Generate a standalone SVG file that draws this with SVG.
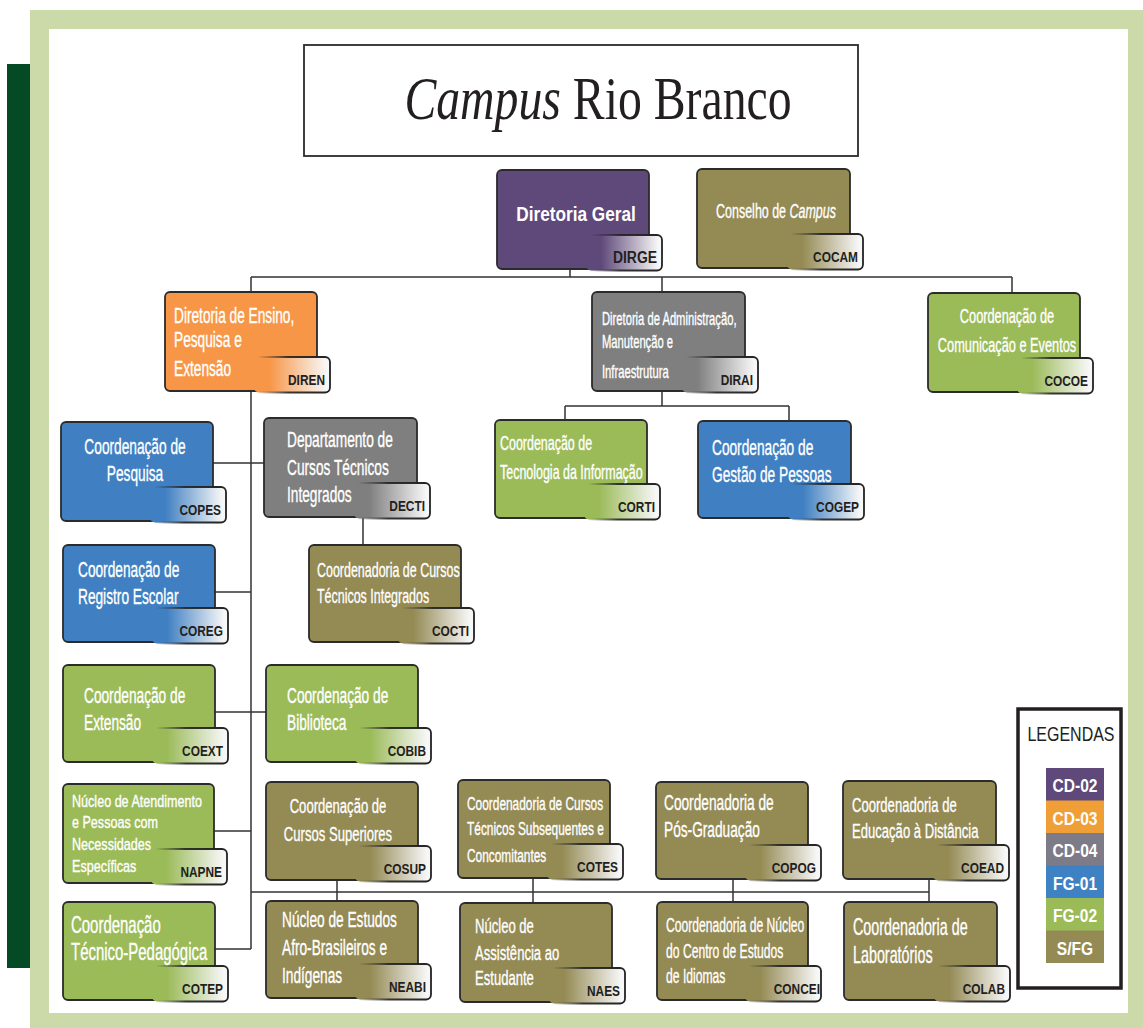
<svg xmlns="http://www.w3.org/2000/svg" width="1143" height="1028" viewBox="0 0 1143 1028">
<style>
.box{stroke:#2b2b2b;stroke-width:1.8}
.tab{stroke:url(#sTab);stroke-width:1.8}
.pur{fill:#5f497a}.ora{fill:#f79646}.gry{fill:#7f7f7f}.blu{fill:#4080c2}.grn{fill:#9bbb59}.olv{fill:#948a54}
.t{fill:#fff;stroke:#fff;stroke-width:0.35;font-family:"Liberation Sans",Arial,sans-serif;font-size:22px}
.c{fill:#231f20;font-family:"Liberation Sans",Arial,sans-serif;font-size:14.5px;font-weight:bold;text-anchor:end}
.ln{stroke:#333;stroke-width:1.5;fill:none}
.lg{fill:#fff;font-family:"Liberation Sans",Arial,sans-serif;font-size:19px;font-weight:bold;text-anchor:middle}
</style>
<defs>
<linearGradient id="sTab" x1="0" y1="0" x2="1" y2="0"><stop offset="0.05" stop-color="#222" stop-opacity="0"/><stop offset="0.45" stop-color="#222" stop-opacity="0.9"/><stop offset="1" stop-color="#222"/></linearGradient>
<linearGradient id="gPur" x1="0" y1="0" x2="1" y2="0"><stop offset="0.2" stop-color="#5f497a"/><stop offset="0.95" stop-color="#f7f7f7"/></linearGradient>
<linearGradient id="gOra" x1="0" y1="0" x2="1" y2="0"><stop offset="0.2" stop-color="#f79646"/><stop offset="0.95" stop-color="#f7f7f7"/></linearGradient>
<linearGradient id="gGry" x1="0" y1="0" x2="1" y2="0"><stop offset="0.2" stop-color="#7f7f7f"/><stop offset="0.95" stop-color="#f7f7f7"/></linearGradient>
<linearGradient id="gBlu" x1="0" y1="0" x2="1" y2="0"><stop offset="0.2" stop-color="#4080c2"/><stop offset="0.95" stop-color="#f7f7f7"/></linearGradient>
<linearGradient id="gGrn" x1="0" y1="0" x2="1" y2="0"><stop offset="0.2" stop-color="#9bbb59"/><stop offset="0.95" stop-color="#f7f7f7"/></linearGradient>
<linearGradient id="gOlv" x1="0" y1="0" x2="1" y2="0"><stop offset="0.2" stop-color="#948a54"/><stop offset="0.95" stop-color="#f7f7f7"/></linearGradient>
</defs>
<rect width="1143" height="1028" fill="#fff"/>
<rect x="7" y="64" width="24" height="904" fill="#034a25"/>
<rect x="30" y="10" width="1113" height="1018" fill="#cbdaa8"/>
<rect x="49" y="29" width="1079" height="984" fill="#fff"/>

<g id="title">
<rect x="304" y="45" width="554" height="111" fill="#fff" stroke="#2b2b2b" stroke-width="1.8"/>
<text transform="translate(598 0) scale(.77 1)" y="119" text-anchor="middle" font-family="'Liberation Serif',serif" font-size="62" fill="#231f20"><tspan font-style="italic">Campus</tspan> Rio Branco</text>
</g>

<g id="connectors">
<path class="ln" d="M570 269V277M251 277H1012M251 277V292M662 277V292M1012 277V293"/>
<path class="ln" d="M662 391V406M565 406H789M565 406V421M789 406V421"/>
<path class="ln" d="M251 391V949M213 463H264M363 517V545M215 592H251M215 712H266M214 831H251M215 949H251"/>
<path class="ln" d="M251 892H929M337 880V901M533 878V903M733 879V902M929 879V902"/>
</g>

<g id="DIRGE">
<rect class="box pur" x="497" y="170" width="152" height="99" rx="5"/>
<rect class="tab" fill="url(#gPur)" x="586" y="235" width="76" height="35.5" rx="5"/>
<text class="t" transform="translate(576 221) scale(.82 1)" text-anchor="middle" style="font-size:21px;font-weight:bold;stroke-width:0">Diretoria Geral</text>
<text class="c" transform="translate(657 263) scale(.82 1)" style="font-size:17px">DIRGE</text>
</g>

<g id="COCAM">
<rect class="box olv" x="697" y="169" width="153" height="99" rx="5"/>
<rect class="tab" fill="url(#gOlv)" x="787" y="234" width="76" height="35.5" rx="5"/>
<text class="t" transform="translate(776 218) scale(.623 1)" text-anchor="middle" style="font-size:20px">Conselho de <tspan font-style="italic">Campus</tspan></text>
<text class="c" transform="translate(858 262) scale(.82 1)">COCAM</text>
</g>

<g id="DIREN">
<rect class="box ora" x="165" y="292" width="152" height="99" rx="5"/>
<rect class="tab" fill="url(#gOra)" x="254" y="357" width="76" height="35.5" rx="5"/>
<text class="t" transform="translate(174 0) scale(.623 1)"><tspan x="0" y="323">Diretoria de Ensino,</tspan><tspan x="0" y="347">Pesquisa e</tspan><tspan x="0" y="376">Extensão</tspan></text>
<text class="c" transform="translate(325 385) scale(.82 1)">DIREN</text>
</g>

<g id="DIRAI">
<rect class="box gry" x="592" y="292" width="153" height="99" rx="5"/>
<rect class="tab" fill="url(#gGry)" x="682" y="357" width="76" height="35.5" rx="5"/>
<text class="t" transform="translate(602 0) scale(.623 1)" style="font-size:18px"><tspan x="0" y="325">Diretoria de Administração,</tspan><tspan x="0" y="348">Manutenção e</tspan><tspan x="0" y="378">Infraestrutura</tspan></text>
<text class="c" transform="translate(753 385) scale(.82 1)">DIRAI</text>
</g>

<g id="COCOE">
<rect class="box grn" x="928" y="293" width="152" height="99" rx="5"/>
<rect class="tab" fill="url(#gGrn)" x="1017" y="358" width="76" height="35.5" rx="5"/>
<text class="t" transform="translate(1007 0) scale(.623 1)" text-anchor="middle" style="font-size:20.5px"><tspan x="0" y="323">Coordenação de</tspan><tspan x="0" y="352">Comunicação e Eventos</tspan></text>
<text class="c" transform="translate(1088 386) scale(.82 1)">COCOE</text>
</g>

<g id="CORTI">
<rect class="box grn" x="495" y="420" width="152" height="98" rx="5"/>
<rect class="tab" fill="url(#gGrn)" x="584" y="484" width="76" height="35.5" rx="5"/>
<text class="t" transform="translate(500 0) scale(.623 1)" style="font-size:20px"><tspan x="0" y="450">Coordenação de</tspan><tspan x="0" y="479">Tecnologia da Informação</tspan></text>
<text class="c" transform="translate(655 512) scale(.82 1)">CORTI</text>
</g>

<g id="COGEP">
<rect class="box blu" x="698" y="421" width="153" height="97" rx="5"/>
<rect class="tab" fill="url(#gBlu)" x="788" y="484" width="76" height="35.5" rx="5"/>
<text class="t" transform="translate(712 0) scale(.623 1)"><tspan x="0" y="455">Coordenação de</tspan><tspan x="0" y="482">Gestão de Pessoas</tspan></text>
<text class="c" transform="translate(859 512) scale(.82 1)">COGEP</text>
</g>

<g id="COPES">
<rect class="box blu" x="61" y="422" width="152" height="99" rx="5"/>
<rect class="tab" fill="url(#gBlu)" x="150" y="487" width="76" height="35.5" rx="5"/>
<text class="t" transform="translate(135 0) scale(.623 1)" text-anchor="middle"><tspan x="0" y="454">Coordenação de</tspan><tspan x="0" y="481">Pesquisa</tspan></text>
<text class="c" transform="translate(221 515) scale(.82 1)">COPES</text>
</g>

<g id="DECTI">
<rect class="box gry" x="264" y="418" width="153" height="99" rx="5"/>
<rect class="tab" fill="url(#gGry)" x="354" y="483" width="76" height="35.5" rx="5"/>
<text class="t" transform="translate(287 0) scale(.623 1)"><tspan x="0" y="447">Departamento de</tspan><tspan x="0" y="475">Cursos Técnicos</tspan><tspan x="0" y="502">Integrados</tspan></text>
<text class="c" transform="translate(425 511) scale(.82 1)">DECTI</text>
</g>

<g id="COCTI">
<rect class="box olv" x="309" y="545" width="152" height="97" rx="5"/>
<rect class="tab" fill="url(#gOlv)" x="398" y="608" width="76" height="35.5" rx="5"/>
<text class="t" transform="translate(317 0) scale(.623 1)" style="font-size:20px"><tspan x="0" y="577">Coordenadoria de Cursos</tspan><tspan x="0" y="603">Técnicos Integrados</tspan></text>
<text class="c" transform="translate(469 636) scale(.82 1)">COCTI</text>
</g>

<g id="COREG">
<rect class="box blu" x="63" y="545" width="152" height="97" rx="5"/>
<rect class="tab" fill="url(#gBlu)" x="152" y="608" width="76" height="35.5" rx="5"/>
<text class="t" transform="translate(78 0) scale(.623 1)"><tspan x="0" y="577">Coordenação de</tspan><tspan x="0" y="604">Registro Escolar</tspan></text>
<text class="c" transform="translate(223 636) scale(.82 1)">COREG</text>
</g>

<g id="COEXT">
<rect class="box grn" x="63" y="665" width="152" height="97" rx="5"/>
<rect class="tab" fill="url(#gGrn)" x="152" y="728" width="76" height="35.5" rx="5"/>
<text class="t" transform="translate(84 0) scale(.623 1)"><tspan x="0" y="703">Coordenação de</tspan><tspan x="0" y="730">Extensão</tspan></text>
<text class="c" transform="translate(223 756) scale(.82 1)">COEXT</text>
</g>

<g id="COBIB">
<rect class="box grn" x="266" y="665" width="152" height="97" rx="5"/>
<rect class="tab" fill="url(#gGrn)" x="355" y="728" width="76" height="35.5" rx="5"/>
<text class="t" transform="translate(287 0) scale(.623 1)"><tspan x="0" y="703">Coordenação de</tspan><tspan x="0" y="730">Biblioteca</tspan></text>
<text class="c" transform="translate(426 756) scale(.82 1)">COBIB</text>
</g>

<g id="NAPNE">
<rect class="box grn" x="63" y="784" width="151" height="99" rx="5"/>
<rect class="tab" fill="url(#gGrn)" x="151" y="849" width="76" height="35.5" rx="5"/>
<text class="t" transform="translate(72 0) scale(.763 1)" style="font-size:16.5px"><tspan x="0" y="807">Núcleo de Atendimento</tspan><tspan x="0" y="828">e Pessoas com</tspan><tspan x="0" y="850">Necessidades</tspan><tspan x="0" y="872">Específicas</tspan></text>
<text class="c" transform="translate(222 877) scale(.82 1)">NAPNE</text>
</g>

<g id="COTEP">
<rect class="box grn" x="63" y="902" width="152" height="98" rx="5"/>
<rect class="tab" fill="url(#gGrn)" x="152" y="966" width="76" height="35.5" rx="5"/>
<text class="t" transform="translate(71 0) scale(.623 1)" style="font-size:24px"><tspan x="0" y="933">Coordenação</tspan><tspan x="0" y="960">Técnico-Pedagógica</tspan></text>
<text class="c" transform="translate(223 994) scale(.82 1)">COTEP</text>
</g>

<g id="COSUP">
<rect class="box olv" x="266" y="782" width="152" height="98" rx="5"/>
<rect class="tab" fill="url(#gOlv)" x="355" y="846" width="76" height="35.5" rx="5"/>
<text class="t" transform="translate(338 0) scale(.623 1)" text-anchor="middle" style="font-size:21px"><tspan x="0" y="813">Coordenação de</tspan><tspan x="0" y="841">Cursos Superiores</tspan></text>
<text class="c" transform="translate(426 874) scale(.82 1)">COSUP</text>
</g>

<g id="NEABI">
<rect class="box olv" x="266" y="901" width="152" height="97" rx="5"/>
<rect class="tab" fill="url(#gOlv)" x="355" y="964" width="76" height="35.5" rx="5"/>
<text class="t" transform="translate(282 0) scale(.623 1)"><tspan x="0" y="927">Núcleo de Estudos</tspan><tspan x="0" y="955">Afro-Brasileiros e</tspan><tspan x="0" y="983">Indígenas</tspan></text>
<text class="c" transform="translate(426 992) scale(.82 1)">NEABI</text>
</g>

<g id="COTES">
<rect class="box olv" x="458" y="780" width="152" height="98" rx="5"/>
<rect class="tab" fill="url(#gOlv)" x="547" y="844" width="76" height="35.5" rx="5"/>
<text class="t" transform="translate(467 0) scale(.68 1)" style="font-size:17.5px"><tspan x="0" y="810">Coordenadoria de Cursos</tspan><tspan x="0" y="835">Técnicos Subsequentes e</tspan><tspan x="0" y="862">Concomitantes</tspan></text>
<text class="c" transform="translate(618 872) scale(.82 1)">COTES</text>
</g>

<g id="NAES">
<rect class="box olv" x="460" y="903" width="152" height="99" rx="5"/>
<rect class="tab" fill="url(#gOlv)" x="549" y="968" width="76" height="35.5" rx="5"/>
<text class="t" transform="translate(475 0) scale(.623 1)" style="font-size:21px"><tspan x="0" y="933">Núcleo de</tspan><tspan x="0" y="960">Assistência ao</tspan><tspan x="0" y="985">Estudante</tspan></text>
<text class="c" transform="translate(620 996) scale(.82 1)">NAES</text>
</g>

<g id="COPOG">
<rect class="box olv" x="656" y="782" width="152" height="97" rx="5"/>
<rect class="tab" fill="url(#gOlv)" x="745" y="845" width="76" height="35.5" rx="5"/>
<text class="t" transform="translate(664 0) scale(.623 1)"><tspan x="0" y="810">Coordenadoria de</tspan><tspan x="0" y="837">Pós-Graduação</tspan></text>
<text class="c" transform="translate(816 873) scale(.82 1)">COPOG</text>
</g>

<g id="CONCEI">
<rect class="box olv" x="657" y="902" width="151" height="98" rx="5"/>
<rect class="tab" fill="url(#gOlv)" x="745" y="966" width="76" height="35.5" rx="5"/>
<text class="t" transform="translate(666 0) scale(.623 1)" style="font-size:19.5px"><tspan x="0" y="932">Coordenadoria de Núcleo</tspan><tspan x="0" y="958">do Centro de Estudos</tspan><tspan x="0" y="983">de Idiomas</tspan></text>
<text class="c" transform="translate(820 994) scale(.82 1)">CONCEI</text>
</g>

<g id="COEAD">
<rect class="box olv" x="843" y="781" width="153" height="98" rx="5"/>
<rect class="tab" fill="url(#gOlv)" x="933" y="845" width="76" height="35.5" rx="5"/>
<text class="t" transform="translate(852 0) scale(.623 1)" style="font-size:21px"><tspan x="0" y="812">Coordenadoria de</tspan><tspan x="0" y="838">Educação à Distância</tspan></text>
<text class="c" transform="translate(1004 873) scale(.82 1)">COEAD</text>
</g>

<g id="COLAB">
<rect class="box olv" x="844" y="902" width="153" height="98" rx="5"/>
<rect class="tab" fill="url(#gOlv)" x="934" y="966" width="76" height="35.5" rx="5"/>
<text class="t" transform="translate(853 0) scale(.623 1)" style="font-size:23px"><tspan x="0" y="935">Coordenadoria de</tspan><tspan x="0" y="963">Laboratórios</tspan></text>
<text class="c" transform="translate(1005 994) scale(.82 1)">COLAB</text>
</g>

<g id="legend">
<rect x="1018" y="709" width="103" height="279" fill="#fff" stroke="#231f20" stroke-width="3.5"/>
<text transform="translate(1071 741) scale(.82 1)" text-anchor="middle" font-family="'Liberation Sans',Arial,sans-serif" font-size="19.5" fill="#231f20">LEGENDAS</text>
<rect x="1046" y="768" width="58" height="33" fill="#5f497a"/>
<rect x="1046" y="800.5" width="58" height="33" fill="#f09e36"/>
<rect x="1046" y="833" width="58" height="33" fill="#7d7b87"/>
<rect x="1046" y="865.5" width="58" height="33" fill="#3f82c4"/>
<rect x="1046" y="898" width="58" height="33" fill="#9bbb59"/>
<rect x="1046" y="930.5" width="58" height="32.5" fill="#948a54"/>
<text class="lg" transform="translate(1075 792) scale(.82 1)">CD-02</text>
<text class="lg" transform="translate(1075 824.5) scale(.82 1)">CD-03</text>
<text class="lg" transform="translate(1075 857) scale(.82 1)">CD-04</text>
<text class="lg" transform="translate(1075 889.5) scale(.82 1)">FG-01</text>
<text class="lg" transform="translate(1075 922) scale(.82 1)">FG-02</text>
<text class="lg" transform="translate(1075 954.5) scale(.82 1)">S/FG</text>
</g>
</svg>
